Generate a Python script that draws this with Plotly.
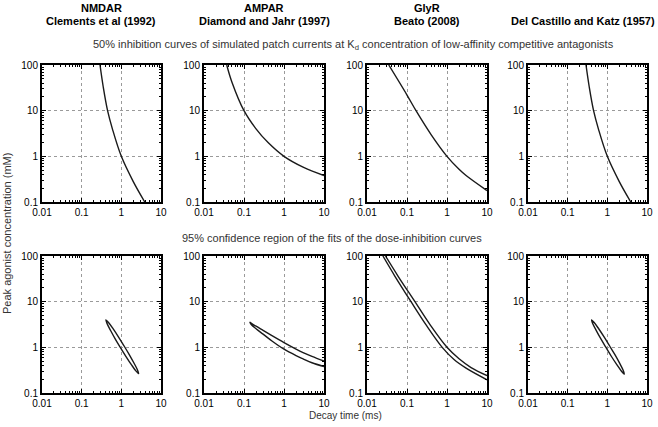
import plotly.graph_objects as go

# ---------------- data ----------------
x_tick_vals = [0.01, 0.1, 1, 10]
x_tick_text = ["0.01", "0.1", "1", "10"]
y_tick_vals = [0.1, 1, 10, 100]
y_tick_text = ["0.1", "1", "10", "100"]

receptor_names = ["NMDAR", "AMPAR", "GlyR", ""]
references = ["Clements et al (1992)", "Diamond and Jahr (1997)", "Beato (2008)",
              "Del Castillo and Katz (1957)"]

# Top row: 50% inhibition curves (decay time ms, peak agonist mM)
nmdar_curve_tau = [0.29, 0.35, 0.45, 0.6, 1.0, 2.0, 3.9]
nmdar_curve_conc = [100, 33, 10, 3.9, 1.0, 0.28, 0.1]

ampar_curve_tau = [0.037, 0.05, 0.1, 0.2, 0.4, 1.0, 3.0, 10]
ampar_curve_conc = [100, 42, 10, 4.0, 2.0, 1.0, 0.58, 0.38]

glyr_curve_tau = [0.035, 0.1, 0.168, 0.4, 1.0, 2.0, 3.0, 10]
glyr_curve_conc = [100, 22, 10, 3.0, 1.0, 0.52, 0.38, 0.178]

dck_curve_tau = [0.29, 0.35, 0.45, 0.6, 1.0, 2.0, 3.9]
dck_curve_conc = [100, 33, 10, 3.9, 1.0, 0.28, 0.1]

# Bottom row: 95% confidence regions (outline points)
nmdar_region_tau = [0.408, 0.475, 0.624, 0.859, 1.167, 1.57, 2.08, 2.57, 2.73,
                    2.35, 1.79, 1.30, 0.957, 0.711, 0.536, 0.435, 0.408]
nmdar_region_conc = [3.99, 3.51, 2.53, 1.66, 1.08, 0.703, 0.453, 0.316, 0.265,
                     0.301, 0.418, 0.637, 0.975, 1.50, 2.34, 3.35, 3.99]

ampar_region_tau = [10, 5, 3, 2, 1, 0.5, 0.3, 0.2, 0.15, 0.141,
                    0.15, 0.2, 0.3, 0.5, 1, 2, 3, 5, 10]
ampar_region_conc = [0.50, 0.634, 0.77, 0.917, 1.27, 1.80, 2.35, 2.9, 3.40, 3.54,
                     3.2, 2.55, 1.95, 1.38, 0.91, 0.66, 0.56, 0.46, 0.38]

glyr_region_lower_tau = [0.025, 0.05, 0.126, 0.3, 0.76, 1.5, 3.0, 10]
glyr_region_lower_conc = [100, 36, 10, 3.1, 1.0, 0.54, 0.35, 0.195]
glyr_region_upper_tau = [0.029, 0.06, 0.158, 0.38, 1.0, 2.0, 4.0, 10]
glyr_region_upper_conc = [100, 36, 10, 3.1, 1.0, 0.56, 0.36, 0.24]

dck_region_tau = [0.40, 0.466, 0.612, 0.843, 1.145, 1.54, 2.04, 2.52, 2.67,
                  2.30, 1.75, 1.27, 0.94, 0.70, 0.527, 0.427, 0.40]
dck_region_conc = [3.99, 3.5, 2.52, 1.65, 1.07, 0.70, 0.45, 0.312, 0.258,
                   0.296, 0.414, 0.63, 0.97, 1.49, 2.33, 3.34, 3.99]

top_title = "50% inhibition curves of simulated patch currents at K<sub>d</sub> concentration of low-affinity competitive antagonists"
bottom_title = "95% confidence region of the fits of the dose-inhibition curves"
x_title = "Decay time (ms)"
y_title = "Peak agonist concentration (mM)"

# ---------------- layout geometry ----------------
W, H = 658, 427
col_px = [(42, 161), (204, 324), (367, 487), (528, 647)]
row_px = [(65, 202), (256, 393)]
header_x = [101, 264, 427, 583]

panels = [
    [(nmdar_curve_tau, nmdar_curve_conc)],
    [(ampar_curve_tau, ampar_curve_conc)],
    [(glyr_curve_tau, glyr_curve_conc)],
    [(dck_curve_tau, dck_curve_conc)],
    [(nmdar_region_tau, nmdar_region_conc)],
    [(ampar_region_tau, ampar_region_conc)],
    [(glyr_region_lower_tau, glyr_region_lower_conc),
     (glyr_region_upper_tau, glyr_region_upper_conc)],
    [(dck_region_tau, dck_region_conc)],
]

FONT = "Liberation Sans, Arial, sans-serif"
minor_vals = [m * 10 ** e for e in range(-2, 2) for m in range(2, 10)]

fig = go.Figure()
layout = dict(
    width=W, height=H,
    margin=dict(l=0, r=0, t=0, b=0, autoexpand=False),
    paper_bgcolor="white", plot_bgcolor="white",
    showlegend=False,
    font=dict(family=FONT, color="black"),
)

for i, traces in enumerate(panels):
    r, c = divmod(i, 4)
    n = i + 1
    xa = "x" if n == 1 else f"x{n}"
    ya = "y" if n == 1 else f"y{n}"
    for xs, ys in traces:
        fig.add_trace(go.Scatter(
            x=xs, y=ys, mode="lines",
            line=dict(color="#1a1a1a", width=1.4, shape="spline", smoothing=1.0),
            xaxis=xa, yaxis=ya, hoverinfo="skip", showlegend=False))
    x0, x1 = col_px[c]
    y0, y1 = row_px[r]
    common = dict(
        type="log", showline=True, linewidth=2, linecolor="black",
        mirror="allticks", ticks="inside", ticklen=4, tickwidth=1, tickcolor="black",
        showgrid=True, gridcolor="#9a9a9a", griddash="dot", gridwidth=1,
        zeroline=False, automargin=False,
        tickfont=dict(family=FONT, size=10, color="black"),
        minor=dict(ticks="inside", ticklen=2, tickwidth=1, tickcolor="black",
                   showgrid=False, tickmode="array", tickvals=minor_vals),
        fixedrange=True,
    )
    layout[f"xaxis{'' if n == 1 else n}"] = dict(
        common, domain=[x0 / W, x1 / W], range=[-2, 1], anchor=ya,
        tickmode="array", tickvals=x_tick_vals, ticktext=x_tick_text)
    layout[f"yaxis{'' if n == 1 else n}"] = dict(
        common, domain=[1 - y1 / H, 1 - y0 / H], range=[-1, 2], anchor=xa,
        tickmode="array", tickvals=y_tick_vals, ticktext=y_tick_text)

ann = []
def add_text(text, px, py, size=11, bold=False, color="black", angle=0):
    ann.append(dict(
        text=f"<b>{text}</b>" if bold else text,
        x=px / W, y=1 - py / H, xref="paper", yref="paper",
        xanchor="center", yanchor="middle", showarrow=False, textangle=angle,
        font=dict(family=FONT, size=size, color=color)))

for c in range(4):
    if receptor_names[c]:
        add_text(receptor_names[c], header_x[c], 8, bold=True)
    add_text(references[c], header_x[c], 21, bold=True)

add_text(top_title, 353, 45, size=11, color="#333333")
add_text(bottom_title, 332, 238, size=11, color="#333333")
add_text(x_title, 345, 415, size=10, color="#333333")
add_text(y_title, 7, 234, size=11, color="#333333", angle=-90)

layout["annotations"] = ann
fig.update_layout(**layout)
fig.write_html(
    "out.html",
    config={"displayModeBar": False, "staticPlot": True},
    post_script="document.body.style.margin='0px';document.body.style.overflow='hidden';",
)
